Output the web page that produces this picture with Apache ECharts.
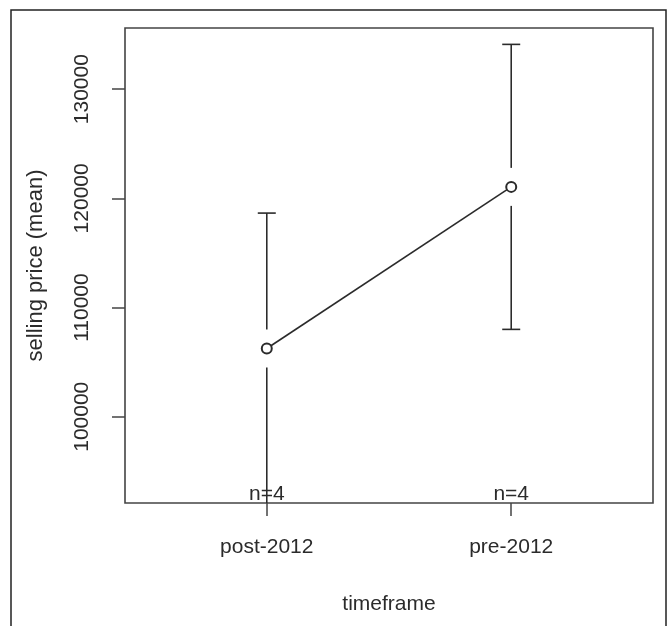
<!DOCTYPE html>
<html>
<head>
<meta charset="utf-8" />
<title>selling price by timeframe</title>
<style>
  html, body { margin: 0; padding: 0; background: #fff; }
  #chart { width: 671px; height: 626px; }
</style>
</head>
<body>
<div id="chart"></div>
<script src="https://cdn.jsdelivr.net/npm/echarts@6/dist/echarts.min.js"></script>
<script>
// data
var categories = ['post-2012', 'pre-2012'];
var means = [106250, 121050];
var upper = [118650, 134100];
var lower = [91000, 108000];   // post-2012 bar runs off the bottom of the plot
var counts = [4, 4];
var yTicks = [100000, 110000, 120000, 130000];

var _font = 'Liberation Sans, Arial, Helvetica, sans-serif';
var _ink = '#2b2b2b';

var chart = echarts.init(document.getElementById('chart'));

// positions 1..n like R's factor axis
var xPos = categories.map(function (c, i) { return i + 1; });

function renderBar(params, api) {
  var i = params.dataIndex;
  var cs = params.coordSys;
  var x = api.coord([xPos[i], means[i]])[0];
  var yMid = api.coord([xPos[i], means[i]])[1];
  var yTop = api.coord([xPos[i], upper[i]])[1];
  var yBot = api.coord([xPos[i], lower[i]])[1];
  var gap = 19, cap = 9;
  var style = { stroke: _ink, lineWidth: 1.6 };
  var kids = [];
  var bottom = cs.y + cs.height;
  kids.push({ type: 'line', shape: { x1: x, y1: Math.max(yTop, cs.y), x2: x, y2: yMid - gap }, style: style });
  kids.push({ type: 'line', shape: { x1: x, y1: yMid + gap, x2: x, y2: Math.min(yBot, bottom) }, style: style });
  if (yTop >= cs.y) {
    kids.push({ type: 'line', shape: { x1: x - cap, y1: yTop, x2: x + cap, y2: yTop }, style: style });
  }
  if (yBot <= bottom) {
    kids.push({ type: 'line', shape: { x1: x - cap, y1: yBot, x2: x + cap, y2: yBot }, style: style });
  }
  // n= label sitting on the bottom edge
  kids.push({
    type: 'text',
    style: {
      text: 'n=' + counts[i], x: x, y: bottom + 2,
      align: 'center', verticalAlign: 'bottom',
      font: '21px ' + _font, fill: _ink
    }
  });
  return { type: 'group', children: kids };
}

var option = {
  backgroundColor: '#fff',
  animation: false,
  graphic: [{
    type: 'rect',
    shape: { x: 11, y: 10, width: 655, height: 660 },
    style: { fill: 'none', stroke: '#222', lineWidth: 1.5 },
    silent: true
  }],
  grid: {
    left: 125, top: 28, right: 18, bottom: 123,
    show: true, borderColor: '#444', borderWidth: 1.6, backgroundColor: 'transparent'
  },
  xAxis: {
    type: 'value',
    min: 0.42, max: 2.58,
    name: 'timeframe',
    nameLocation: 'middle',
    nameGap: 91,
    nameTextStyle: { fontSize: 21, fontFamily: _font, color: _ink },
    axisLine: { show: false },
    splitLine: { show: false },
    axisTick: { show: true, length: 13, customValues: xPos, lineStyle: { color: '#444', width: 1.5 } },
    axisLabel: {
      customValues: xPos,
      margin: 34,
      fontSize: 21, fontFamily: _font, color: _ink,
      formatter: function (v) { return categories[Math.round(v) - 1]; }
    }
  },
  yAxis: {
    type: 'value',
    min: 92100, max: 135600,
    name: 'selling price (mean)',
    nameLocation: 'middle',
    nameRotate: 90,
    nameGap: 78,
    nameTextStyle: { fontSize: 22, fontFamily: _font, color: _ink },
    axisLine: { show: false },
    splitLine: { show: false },
    axisTick: { show: true, length: 13, customValues: yTicks, lineStyle: { color: '#444', width: 1.5 } },
    axisLabel: {
      customValues: yTicks,
      rotate: 90,
      margin: 32,
      fontSize: 21, fontFamily: _font, color: _ink,
      formatter: function (v) { return String(v); }
    }
  },
  series: [{
    type: 'line',
    data: xPos.map(function (x, i) { return [x, means[i]]; }),
    symbol: 'emptyCircle',
    symbolSize: 10,
    lineStyle: { color: _ink, width: 1.6 },
    itemStyle: { color: _ink, borderWidth: 1.5 },
    z: 3
  }, {
    type: 'custom',
    data: xPos.map(function (x, i) { return [x, means[i]]; }),
    renderItem: renderBar,
    z: 2
  }]
};

chart.setOption(option);
</script>
</body>
</html>
